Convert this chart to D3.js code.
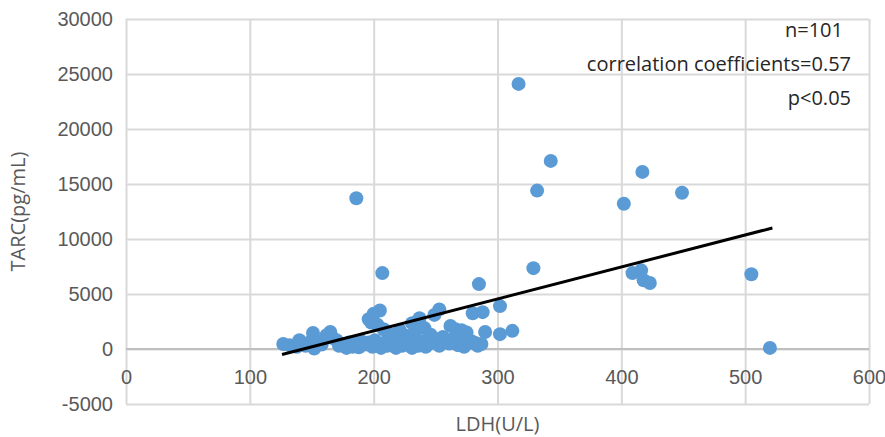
<!DOCTYPE html>
<html>
<head>
<meta charset="utf-8">
<script src="https://cdn.jsdelivr.net/npm/d3@7"></script>
<style>
  body { margin: 0; background: #fff; }
  svg { display: block; font-family: "Open Sans", "Noto Sans", sans-serif; }
  .axis text { fill: #595959; font-size: 20px; }
  .axis line { stroke: #d9d9d9; stroke-width: 2; }
</style>
</head>
<body>
<svg id="svg" width="885" height="437"></svg>
<script>
// LDH (U/L) values
const ldh = [
  317, 343, 332, 329, 417, 402, 449, 409, 416, 418, 423, 505, 520, 186, 207, 285,
  205, 200, 196, 198, 203, 253, 249, 237, 231, 262, 280, 288, 302,
  151, 162, 165, 167, 140, 208, 212, 221, 226, 233, 241, 246, 256, 266, 271, 275, 290, 302, 312, 229,
  127, 132, 138, 145, 148, 152, 155, 158, 170, 172, 175, 178, 180, 183, 185, 188, 190, 193, 196, 199,
  201, 204, 206, 209, 211, 214, 216, 218, 220, 223, 225, 228, 231, 234, 236, 239, 242, 244, 247, 250,
  253, 258, 261, 264, 268, 270, 273, 276, 279, 282, 284, 287
];
// TARC (pg/mL) values, same order
const tarc = [
  24100, 17100, 14400, 7350, 16100, 13200, 14200, 6900, 7150, 6250, 6000, 6800, 100, 13700, 6900, 5900,
  3500, 3200, 2700, 2400, 2200, 3600, 3100, 2800, 2350, 2100, 3250, 3350, 3900,
  1450, 1250, 1550, 1000, 800, 1800, 1400, 1700, 1200, 1500, 1900, 1300, 1100, 1800, 1700, 1500, 1550, 1350, 1650, 1000,
  450, 350, 200, 300, 600, 50, 700, 400, 800, 300, 400, 100, 600, 200, 500, 150, 700, 400, 600, 200,
  800, 500, 100, 600, 300, 800, 450, 100, 550, 300, 750, 400, 100, 600, 300, 700, 200, 400, 600, 900,
  300, 700, 500, 900, 350, 600, 200, 500, 700, 550, 300, 450
];
// linear trend line end points (LDH, TARC)
const trendLdh = [126, 522];
const trendTarc = [-500, 11000];

const xTicks = [0, 100, 200, 300, 400, 500, 600];
const yTicks = [-5000, 0, 5000, 10000, 15000, 20000, 25000, 30000];
const notes = ['n=101', 'correlation coefficients=0.57', 'p<0.05'];

const margin = {left: 126, right: 16, top: 19, bottom: 33};
const width = 885 - margin.left - margin.right;
const height = 437 - margin.top - margin.bottom;

const svg = d3.select('#svg');
const chart = svg.append('g')
  .attr('transform', `translate(${margin.left},${margin.top})`);

const xScale = d3.scaleLinear().domain([0, 600]).range([0, width]);
const yScale = d3.scaleLinear().domain([-5000, 30000]).range([height, 0]);

// plain hyphen for negatives, like the original
const plain = d => String(d);

const yAxis = d3.axisLeft(yScale)
  .tickValues(yTicks)
  .tickSize(-width)
  .tickPadding(13)
  .tickFormat(plain);

const xAxis = d3.axisBottom(xScale)
  .tickValues(xTicks)
  .tickSize(-height)
  .tickFormat(plain);

const yAxisG = chart.append('g').attr('class', 'axis y-axis').call(yAxis);
yAxisG.select('path.domain').remove();

const xAxisG = chart.append('g')
  .attr('class', 'axis x-axis')
  .attr('transform', `translate(0,${height})`)
  .call(xAxis);
xAxisG.select('path.domain').remove();
// labels sit under the zero line, as excel does it
xAxisG.selectAll('text')
  .attr('y', yScale(0) - height + 21);

// horizontal axis line at zero
chart.append('line')
  .attr('x1', 0)
  .attr('x2', width)
  .attr('y1', yScale(0))
  .attr('y2', yScale(0))
  .style('stroke', '#bfbfbf')
  .style('stroke-width', 2);

const points = ldh.map((d, i) => ({x: d, y: tarc[i]}));

chart.selectAll('.dot')
  .data(points)
  .join('circle')
  .attr('class', 'dot')
  .attr('cx', d => xScale(d.x))
  .attr('cy', d => yScale(d.y))
  .attr('r', 7)
  .attr('fill', '#5b9bd5');

chart.append('line')
  .attr('x1', xScale(trendLdh[0]))
  .attr('y1', yScale(trendTarc[0]))
  .attr('x2', xScale(trendLdh[1]))
  .attr('y2', yScale(trendTarc[1]))
  .style('stroke', '#000')
  .style('stroke-width', 3);

// axis titles
svg.append('text')
  .text('LDH(U/L)')
  .attr('x', margin.left + width / 2)
  .attr('y', 431)
  .attr('text-anchor', 'middle')
  .attr('fill', '#595959')
  .style('font-size', '20px');

svg.append('text')
  .text('TARC(pg/mL)')
  .attr('transform', `translate(25,${margin.top + height / 2}) rotate(-90)`)
  .attr('text-anchor', 'middle')
  .attr('fill', '#595959')
  .style('font-size', '20px');

// annotation block, top right
svg.selectAll('.note')
  .data(notes)
  .join('text')
  .attr('class', 'note')
  .text(d => d)
  .attr('x', (d, i) => i == 0 ? 843 : 851)
  .attr('y', (d, i) => 37 + i * 34)
  .attr('text-anchor', 'end')
  .attr('fill', '#262626')
  .style('font-size', '20px');
</script>
</body>
</html>
